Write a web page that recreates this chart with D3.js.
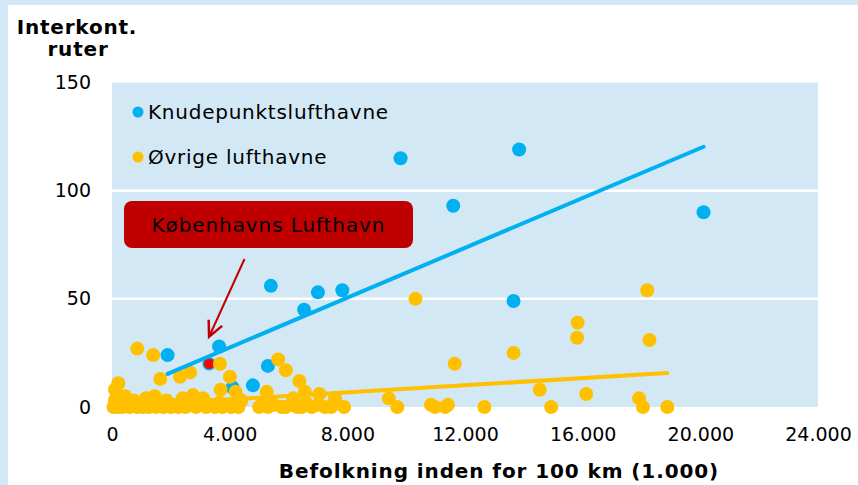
<!DOCTYPE html>
<html>
<head>
<meta charset="utf-8">
<script src="https://cdn.jsdelivr.net/npm/d3@7"></script>
<style>
  html, body { margin: 0; padding: 0; background: #ffffff; }
  svg { display: block; font-family: "DejaVu Sans", Verdana, sans-serif; }
</style>
</head>
<body>
<svg id="chart" width="858" height="485"></svg>
<script>
// ---- data ----
const hubX = [1890, 3640, 4100, 4790, 5300, 5400, 6530, 7000, 7830, 9810, 11600, 13650, 13840, 20110];
const hubY = [24, 28, 9, 10, 19, 56, 45, 53, 54, 115, 93, 49, 119, 90];

const otherX = [
  50, 100, 200, 300, 350, 450, 550, 600, 750, 850, 950, 1050, 1150, 1250, 1350, 1450, 1500, 1600,
  1750, 1850, 2000, 2100, 2250, 2400, 2500, 2600, 2750, 2850, 2950, 3100, 3200, 3350, 3500, 3650,
  3750, 3900, 4050, 4300, 4400, 5000, 5150, 5300, 5500, 5770, 5900, 6100, 6300, 6450, 6600, 6790,
  7000, 7240, 7450,
  215, 100, 860, 1400, 1640, 2310, 2650, 3670, 4010, 3690, 4200, 5260, 5650, 5910, 6370, 6560,
  7050, 7580, 7890, 6160,
  10316, 9410, 9700, 10840, 10980, 11330, 11420, 11650, 12660, 13650, 14540, 14930, 15830, 15810,
  16120, 18195, 18270, 17920, 18050, 18880
];
const otherY = [
  0, 3, 0, 2, 0, 5, 1, 0, 3, 0, 1, 0, 4, 0, 2, 5, 0, 1,
  0, 3, 0, 1, 0, 4, 0, 2, 5.5, 0, 1, 4, 0, 1, 0, 2,
  0, 1, 0, 0, 3, 0, 2, 0, 1, 0, 0, 1, 0, 0, 2, 0,
  1, 0, 0,
  11, 8, 27, 24, 13, 14, 16, 20, 14, 8, 7, 7, 22, 17, 12, 7,
  6, 4, 0, 4,
  50, 4, 0, 1, 0, 0, 1, 20, 0, 25, 8, 0, 39, 32,
  6, 54, 31, 4, 0, 0
];

const cphX = [3300];
const cphY = [20];
const cphLabel = "Københavns Lufthavn";

// trend line end points
const hubTrendX = [1890, 20110];
const hubTrendY = [15.3, 120.3];
const otherTrendX = [50, 18880];
const otherTrendY = [0.3, 15.7];

const xTicks = [0, 4000, 8000, 12000, 16000, 20000, 24000];
const yTicks = [0, 50, 100, 150];
const seriesNames = ["Knudepunktslufthavne", "Øvrige lufthavne"];
const yTitle = ["Interkont.", "ruter"];
const xTitle = "Befolkning inden for 100 km (1.000)";

// ---- drawing ----
const blue = "#00b0f0", orange = "#ffc000", bg = "#d3e8f5", boxRed = "#c00000";
const svg = d3.select("#chart");

// outer frame strips
svg.append("rect").attr("x", 0).attr("y", 0).attr("width", 858).attr("height", 5).attr("fill", bg);
svg.append("rect").attr("x", 0).attr("y", 0).attr("width", 8).attr("height", 485).attr("fill", bg);

const L = 112, R = 818, T = 82.5, B = 407;
const x = d3.scaleLinear().domain([0, 24000]).range([L, R]);
const y = d3.scaleLinear().domain([0, 150]).range([B, T]);

svg.append("rect").attr("x", L).attr("y", T).attr("width", R - L).attr("height", B - T).attr("fill", bg);

// gridlines
svg.append("g").selectAll("line").data(yTicks.filter(d => d > 0 && d < 150)).join("line")
  .attr("x1", L).attr("x2", R).attr("y1", d => y(d)).attr("y2", d => y(d))
  .attr("stroke", "#ffffff").attr("stroke-width", 2.5);

const fmt = d => d3.format(",")(d).replace(/,/g, ".");

// y axis
const yAxis = svg.append("g").attr("transform", `translate(${L},0)`)
  .call(d3.axisLeft(y).tickValues(yTicks).tickSize(0).tickPadding(21).tickFormat(fmt));
yAxis.select(".domain").remove();
yAxis.selectAll("text").attr("font-size", 19).attr("fill", "#000").attr("font-family", "DejaVu Sans");

// x axis
const xAxis = svg.append("g").attr("transform", `translate(0,${B})`)
  .call(d3.axisBottom(x).tickValues(xTicks).tickSize(0).tickPadding(21).tickFormat(fmt));
xAxis.select(".domain").remove();
xAxis.selectAll("text").attr("font-size", 19).attr("fill", "#000").attr("font-family", "DejaVu Sans");

// axis titles
svg.append("text").attr("x", 77).attr("y", 34).attr("text-anchor", "middle")
  .attr("font-size", 20).attr("letter-spacing", 0.8).attr("font-weight", "bold").text(yTitle[0]);
svg.append("text").attr("x", 78).attr("y", 56).attr("text-anchor", "middle")
  .attr("font-size", 20).attr("letter-spacing", 0.8).attr("font-weight", "bold").text(yTitle[1]);
svg.append("text").attr("x", 499).attr("y", 478).attr("text-anchor", "middle")
  .attr("font-size", 20).attr("letter-spacing", 0.9).attr("font-weight", "bold").text(xTitle);

// points
const hubs = hubX.map((d, i) => [d, hubY[i]]);
const others = otherX.map((d, i) => [d, otherY[i]]);
svg.append("g").selectAll("circle").data(hubs).join("circle")
  .attr("cx", d => x(d[0])).attr("cy", d => y(d[1])).attr("r", 7).attr("fill", blue);
svg.append("g").selectAll("circle").data(cphX.map((d, i) => [d, cphY[i]])).join("circle")
  .attr("cx", d => x(d[0])).attr("cy", d => y(d[1])).attr("r", 6)
  .attr("fill", "#ff0000").attr("stroke", blue).attr("stroke-width", 1.5);
svg.append("g").selectAll("circle").data(others).join("circle")
  .attr("cx", d => x(d[0])).attr("cy", d => y(d[1])).attr("r", 7).attr("fill", orange);

// trend lines
const line = d3.line().x(d => x(d[0])).y(d => y(d[1]));
svg.append("path").datum(hubTrendX.map((d, i) => [d, hubTrendY[i]]))
  .attr("d", line).attr("stroke", blue).attr("stroke-width", 4).attr("fill", "none").attr("stroke-linecap", "round");
svg.append("path").datum(otherTrendX.map((d, i) => [d, otherTrendY[i]]))
  .attr("d", line).attr("stroke", orange).attr("stroke-width", 4).attr("fill", "none").attr("stroke-linecap", "round");

// legend
const leg = svg.append("g");
[blue, orange].forEach((c, i) => {
  leg.append("circle").attr("cx", 138).attr("cy", 112 + i * 45).attr("r", 5.5).attr("fill", c);
  leg.append("text").attr("x", 148).attr("y", 112 + i * 45).attr("dy", "0.35em")
    .attr("font-size", 20).attr("letter-spacing", 0.75).attr("fill", "#000").text(seriesNames[i]);
});

// annotation
svg.append("rect").attr("x", 124).attr("y", 201).attr("width", 289).attr("height", 47)
  .attr("rx", 8).attr("fill", boxRed);
svg.append("text").attr("x", 268.5).attr("y", 224.5).attr("dy", "0.35em").attr("text-anchor", "middle")
  .attr("font-size", 20).attr("letter-spacing", 0.9).attr("fill", "#000").text(cphLabel);
const tip = [x(cphX[0]) , y(cphY[0]) - 27];
svg.append("line").attr("x1", 244.5).attr("y1", 259).attr("x2", tip[0]).attr("y2", tip[1])
  .attr("stroke", boxRed).attr("stroke-width", 2);
const ang = Math.atan2(tip[1] - 259, tip[0] - 244.5);
const ah = 17, spread = 0.45;
svg.append("path")
  .attr("d", `M${tip[0] - ah * Math.cos(ang - spread)},${tip[1] - ah * Math.sin(ang - spread)} L${tip[0]},${tip[1]} L${tip[0] - ah * Math.cos(ang + spread)},${tip[1] - ah * Math.sin(ang + spread)}`)
  .attr("stroke", boxRed).attr("stroke-width", 2.5).attr("fill", "none");
</script>
</body>
</html>
